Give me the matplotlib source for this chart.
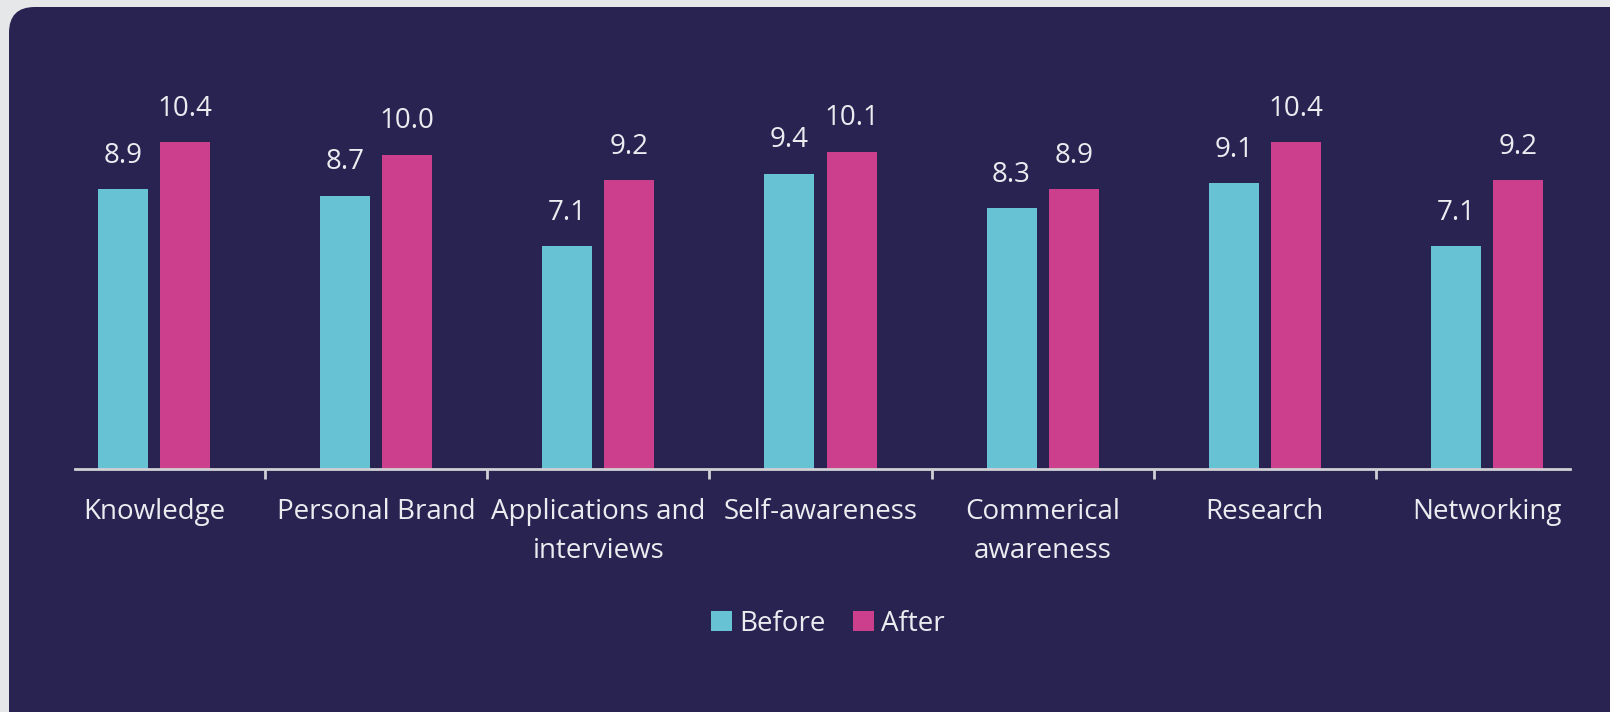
import matplotlib.pyplot as plt
import numpy as np
from matplotlib.patches import FancyBboxPatch

# Chart data
categories = ["Knowledge", "Personal Brand", "Applications and\ninterviews", "Self-awareness",
              "Commerical\nawareness", "Research", "Networking"]
before = [8.9, 8.7, 7.1, 9.4, 8.3, 9.1, 7.1]
after = [10.4, 10.0, 9.2, 10.1, 8.9, 10.4, 9.2]

NAVY = "#292352"
CYAN = "#67c2d4"
MAGENTA = "#cc3f8c"
TEXT = "#ebebf0"
PAGE = "#e6e7e9"
FS = 20

plt.rcParams['font.family'] = ['Open Sans', 'DejaVu Sans']

W, H = 1610, 712
fig = plt.figure(figsize=(W / 100, H / 100), dpi=100)
fig.patch.set_facecolor(PAGE)

# rounded dark panel, running off the right and bottom edges
panel = FancyBboxPatch((9 / W, -40 / H), 1630 / W, (H - 7 + 40) / H,
                       boxstyle="round,pad=0,rounding_size=0.016",
                       transform=fig.transFigure, facecolor=NAVY, edgecolor="none",
                       mutation_aspect=W / H, zorder=-10)
fig.patches.append(panel)

ax = fig.add_axes([43 / W, (H - 469) / H, (1598 - 43) / W, 440 / H])
ax.set_zorder(5)
ax.set_facecolor("none")

x = np.arange(len(categories))
width = 0.225
offset = 0.14
b1 = ax.bar(x - offset, before, width, color=CYAN, label="Before")
b2 = ax.bar(x + offset, after, width, color=MAGENTA, label="After")

for bars in (b1, b2):
    for rect in bars:
        h = rect.get_height()
        ax.annotate(f"{h:.1f}", (rect.get_x() + rect.get_width() / 2, h),
                    xytext=(0, 24), textcoords="offset points",
                    ha="center", va="center", color=TEXT, fontsize=FS)

ax.set_xlim(-0.5, len(categories) - 0.5)
ax.set_ylim(0, 14)
ax.set_yticks([])
for side in ("top", "right", "left"):
    ax.spines[side].set_visible(False)
ax.spines["bottom"].set_color("#d0d0d4")
ax.spines["bottom"].set_linewidth(2)
ax.spines["bottom"].set_bounds(-0.354, 6.373)

ax.set_xticks(x)
ax.set_xticklabels(categories, color=TEXT, fontsize=FS, linespacing=1.5, va="top")
ax.tick_params(axis="x", which="major", length=0, pad=21)
ax.set_xticks(np.arange(0.5, len(categories) - 1, 1), minor=True)
ax.tick_params(axis="x", which="minor", length=7, width=2, color="#d0d0d4", direction="out")

leg = fig.legend(loc="center", bbox_to_anchor=(828 / W, 1 - 624 / H), ncol=2,
                 frameon=False, fontsize=FS, labelcolor=TEXT,
                 handlelength=0.75, handleheight=0.75, handletextpad=0.25, columnspacing=1.0)

fig.savefig("out.png", dpi=100, facecolor=fig.get_facecolor())
